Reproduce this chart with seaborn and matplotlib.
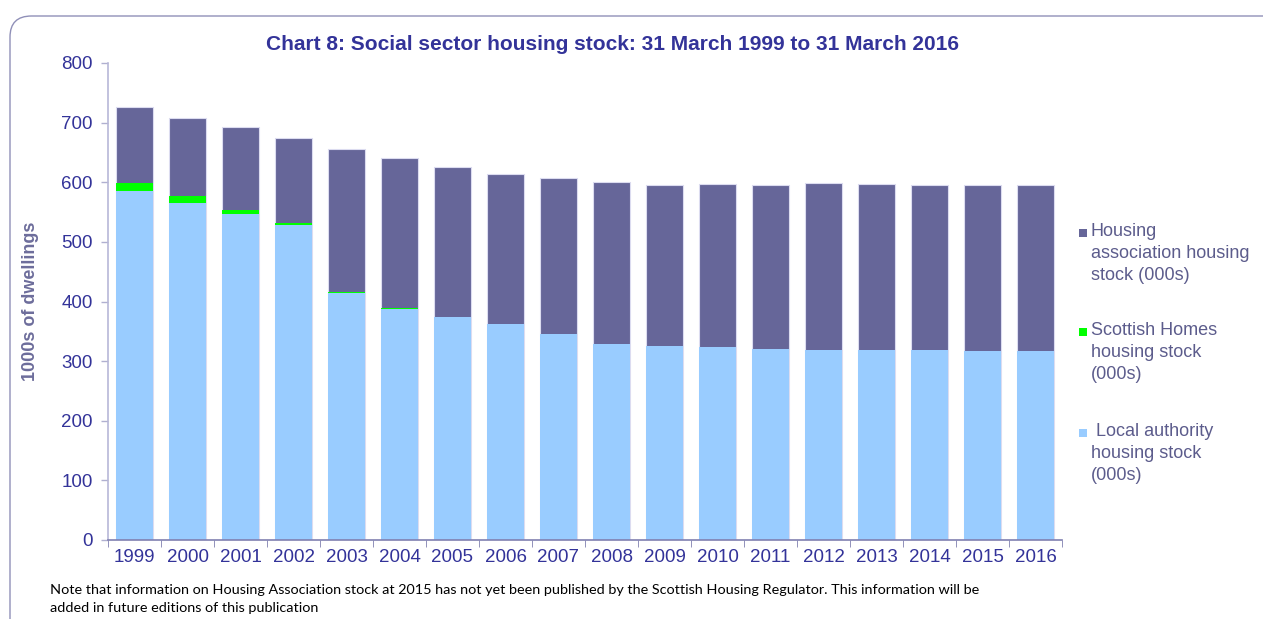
import numpy as np
import pandas as pd
import matplotlib
matplotlib.use("Agg")
import matplotlib.pyplot as plt
import seaborn as sns
from matplotlib.patches import FancyBboxPatch, Rectangle

# Values (thousands of dwellings)
years = [str(y) for y in range(1999, 2017)]
local_authority = [585, 565, 547, 528, 414, 388, 374, 363, 346, 329, 326, 323,
                   320, 319, 318, 318, 317, 317]
scottish_homes = [13, 12, 6, 3, 2, 1.5, 0, 0, 0, 0, 0, 0, 0, 0, 0, 0, 0, 0]
housing_assoc = [129, 130, 139, 144, 239, 252, 252, 251, 261, 271, 269, 274,
                 276, 279, 279, 278, 279, 279]

df = pd.DataFrame({"year": years, "la": local_authority,
                   "sh": scottish_homes, "ha": housing_assoc})
df["la_sh"] = df["la"] + df["sh"]
df["total"] = df["la_sh"] + df["ha"]

c_ha = "#666699"
c_sh = "#00ff00"
c_la = "#99ccff"
navy = "#333399"

sns.set_style("white")
plt.rcParams["font.family"] = ["Liberation Sans", "DejaVu Sans"]

fig = plt.figure(figsize=(12.63, 6.19), dpi=100)
ax = fig.add_axes([108 / 1263, 1 - 540 / 619, (1062 - 108) / 1263, (540 - 63) / 619])

# stacked bars drawn back to front as cumulative totals
sns.barplot(data=df, x="year", y="total", color=c_ha, width=0.7, saturation=1,
            edgecolor="#dcdcf0", linewidth=0.8, ax=ax)
sns.barplot(data=df, x="year", y="la_sh", color=c_sh, width=0.7, saturation=1,
            linewidth=0, ax=ax)
sns.barplot(data=df, x="year", y="la", color=c_la, width=0.7, saturation=1,
            linewidth=0, ax=ax)

ax.set_ylim(0, 800)
ax.set_xlim(-0.5, len(years) - 0.5)
ax.set_yticks(range(0, 801, 100))
ax.set_xlabel("")
ax.set_ylabel("1000s of dwellings", fontsize=13, fontweight="bold",
              color="#6d6d9b", labelpad=16)
ax.tick_params(axis="y", labelsize=13.5, labelcolor=navy, color="#b0b0d0",
               length=5, width=1, direction="out", left=True, pad=6)
ax.tick_params(axis="x", labelsize=13.5, labelcolor=navy, bottom=False, pad=3)
# category separators on the x axis
ax.set_xticks(np.arange(-0.5, len(years), 1), minor=True)
ax.tick_params(axis="x", which="minor", bottom=True, length=5, color="#8080b0")
for s in ["top", "right"]:
    ax.spines[s].set_visible(False)
ax.spines["left"].set_color("#b8b8d8")
ax.spines["bottom"].set_color("#8080b0")
ax.spines["left"].set_linewidth(1.2)
ax.spines["bottom"].set_linewidth(1.2)

fig.text(613 / 1263, 1 - 44 / 619,
         "Chart 8: Social sector housing stock: 31 March 1999 to 31 March 2016",
         ha="center", va="center", fontsize=15, fontweight="bold", color=navy)

# legend: square marker aligned with the first line of each label
legend_items = [(c_ha, "Housing\nassociation housing\nstock (000s)", 233),
                (c_sh, "Scottish Homes\nhousing stock\n(000s)", 332),
                (c_la, " Local authority\nhousing stock\n(000s)", 433)]
for col, lab, yc in legend_items:
    fig.patches.append(Rectangle((1079 / 1263, 1 - (yc + 4) / 619),
                                 8 / 1263, 8 / 619, transform=fig.transFigure,
                                 facecolor=col, edgecolor="none"))
    fig.text(1091 / 1263, 1 - (yc - 10) / 619, lab, ha="left", va="top",
             fontsize=13, color="#5c5c8c", linespacing=1.4)

fig.text(50 / 1263, 1 - 590 / 619,
         "Note that information on Housing Association stock at 2015 has not yet been "
         "published by the Scottish Housing Regulator. This information will be",
         ha="left", va="center", fontsize=10.4, family="Lato", color="black")
fig.text(50 / 1263, 1 - 608 / 619,
         "added in future editions of this publication",
         ha="left", va="center", fontsize=10.4, family="Lato", color="black")

# rounded chart frame
frame = FancyBboxPatch((10 / 1263, -0.1), 1.2, 1 - 16 / 619 + 0.1,
                       boxstyle="round,pad=0,rounding_size=0.017",
                       transform=fig.transFigure, fill=False,
                       edgecolor="#9090b8", linewidth=1, mutation_aspect=2)
fig.patches.append(frame)

fig.savefig("out.png", dpi=100)
